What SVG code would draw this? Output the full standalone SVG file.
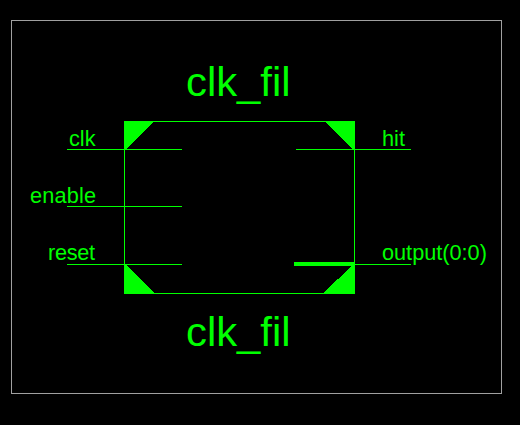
<svg xmlns="http://www.w3.org/2000/svg" width="520" height="425" viewBox="0 0 520 425">
<style>
.l{stroke:#00ff00;stroke-width:1;fill:none;shape-rendering:crispEdges}
.t{fill:#00ff00;font-family:"Liberation Sans",Arial,sans-serif}
.p{font-size:21.7px}
.n{font-size:41px}
.c{fill:#00ff00;stroke:none;shape-rendering:crispEdges}
</style>
<rect width="520" height="425" fill="#000000"/>
<rect id="frame" x="11.5" y="20.5" width="490" height="373" fill="none" stroke="#a0a0a0" stroke-width="1" shape-rendering="crispEdges"/>
<g id="module">
<path class="l" d="M124.5 121.500H354.500V293.500H124.500Z"/>
<path class="c" d="M124 121H154L125 150H124Z"/>
<path class="c" d="M324 121H355V150H354Z"/>
<path class="c" d="M124 264H125L155 294H124Z"/>
<path class="c" d="M354 264H355V294H322Z"/>
<text class="t n" x="186" y="96" textLength="104.500" lengthAdjust="spacingAndGlyphs">clk_fil</text>
<text class="t n" x="186" y="346" textLength="104.500" lengthAdjust="spacingAndGlyphs">clk_fil</text>
</g>
<g id="connectors">
<path class="l" d="M67 149.500H182"/>
<path class="l" d="M67 206.500H182"/>
<path class="l" d="M67 264.500H182"/>
<path class="l" d="M296 149.500H411"/>
<path class="l" d="M354 264.500H411"/>
<rect class="c" x="294" y="262" width="60" height="4"/>
</g>
<g id="pin-clk"><text class="t p" x="69" y="146">clk</text></g>
<g id="pin-enable"><text class="t p" x="30" y="203" textLength="66">enable</text></g>
<g id="pin-reset"><text class="t p" x="48" y="260" textLength="47">reset</text></g>
<g id="pin-hit"><text class="t p" x="382" y="146">hit</text></g>
<g id="pin-output"><text class="t p" x="382" y="260">output(0:0)</text></g>
</svg>
